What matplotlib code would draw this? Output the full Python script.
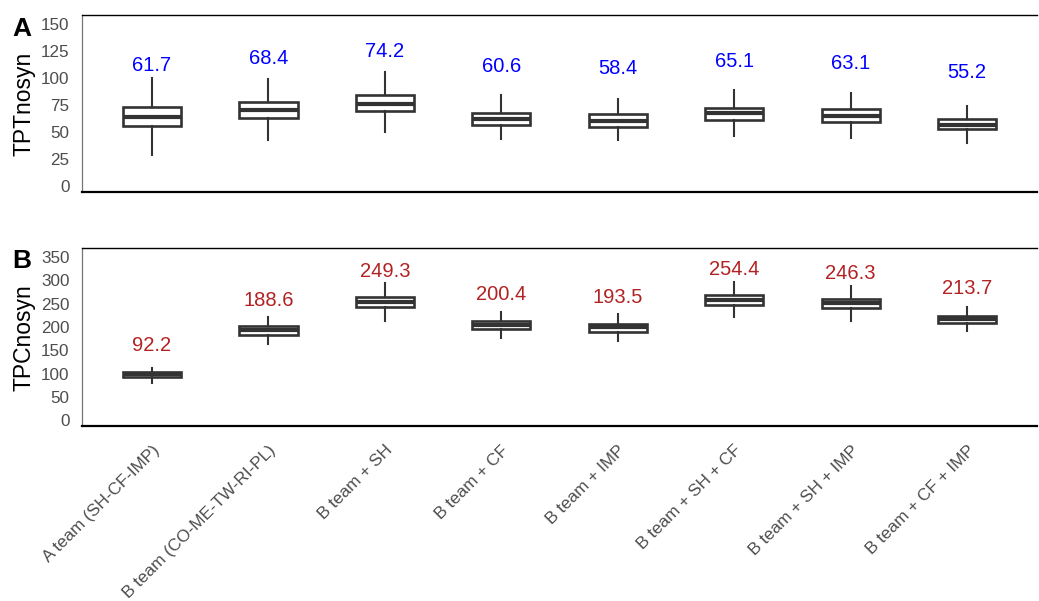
import matplotlib
matplotlib.use("Agg")
import matplotlib.pyplot as plt

plt.rcParams['font.family'] = ['Liberation Sans', 'DejaVu Sans']

groups = ["A team (SH-CF-IMP)", "B team (CO-ME-TW-RI-PL)", "B team + SH", "B team + CF",
          "B team + IMP", "B team + SH + CF", "B team + SH + IMP", "B team + CF + IMP"]

# TPTnosyn summary per group
tpt_mean = [61.7, 68.4, 74.2, 60.6, 58.4, 65.1, 63.1, 55.2]
tpt_lo = [28.7, 42.6, 50.0, 43.8, 42.6, 46.6, 44.7, 40.1]
tpt_q1 = [55.6, 63.3, 69.8, 56.8, 54.6, 61.1, 59.3, 52.8]
tpt_med = [63.6, 70.1, 75.6, 62.3, 59.9, 67.3, 65.1, 56.8]
tpt_q3 = [73.4, 77.5, 84.0, 67.9, 66.4, 72.5, 71.0, 61.7]
tpt_hi = [100.3, 98.8, 105.2, 84.3, 80.6, 88.9, 86.1, 74.1]

# TPCnosyn summary per group
tpc_mean = [92.2, 188.6, 249.3, 200.4, 193.5, 254.4, 246.3, 213.7]
tpc_lo = [80.3, 162.7, 212.9, 176.3, 169.9, 222.2, 213.6, 191.4]
tpc_q1 = [92.5, 183.5, 242.3, 195.7, 190.0, 247.3, 240.1, 208.6]
tpc_med = [98.2, 192.8, 253.8, 204.3, 200.0, 258.0, 250.9, 217.2]
tpc_q3 = [103.2, 202.2, 265.2, 212.2, 206.5, 269.5, 260.9, 224.3]
tpc_hi = [112.5, 222.2, 293.9, 233.0, 227.2, 296.0, 288.2, 242.3]


def make_stats(lo, q1, med, q3, hi, mean):
    return [dict(whislo=a, q1=b, med=c, q3=d, whishi=e, mean=m, fliers=[])
            for a, b, c, d, e, m in zip(lo, q1, med, q3, hi, mean)]


def draw_panel(ax, stats, means, offset, color, ylim, yticks, ylabel):
    pos = list(range(1, len(stats) + 1))
    ax.bxp(stats, positions=pos, widths=0.5, showcaps=False, patch_artist=True,
           boxprops=dict(facecolor='white', edgecolor='#333333', linewidth=1.9),
           medianprops=dict(color='#333333', linewidth=3.0, solid_capstyle='butt'),
           whiskerprops=dict(color='#333333', linewidth=1.5))
    for p, m in zip(pos, means):
        ax.text(p, m + offset, f"{m:.1f}", color=color, fontsize=14.5,
                ha='center', va='center')
    ax.set_xlim(0.4, len(stats) + 0.6)
    ax.set_ylim(*ylim)
    ax.set_yticks(yticks)
    ax.tick_params(axis='y', length=0, pad=9, labelsize=12.3, labelcolor='#4d4d4d')
    ax.set_ylabel(ylabel, fontsize=16.5, labelpad=4)
    ax.spines['right'].set_visible(False)
    ax.spines['top'].set_linewidth(1.0)
    ax.spines['top'].set_color('black')
    ax.spines['bottom'].set_linewidth(1.6)
    ax.spines['bottom'].set_color('black')
    ax.spines['left'].set_linewidth(0.9)
    ax.spines['left'].set_color('#777777')
    return pos


fig = plt.figure(figsize=(10.39, 6.01), dpi=100)
axA = fig.add_axes([0.079, 0.6805, 0.919, 0.2945])
axB = fig.add_axes([0.079, 0.291, 0.919, 0.296])

pos = draw_panel(axA, make_stats(tpt_lo, tpt_q1, tpt_med, tpt_q3, tpt_hi, tpt_mean),
                 tpt_mean, 50, '#0000FF', (-5.6, 158.3), [0, 25, 50, 75, 100, 125, 150],
                 'TPTnosyn')
axA.set_xticks(pos)
axA.tick_params(axis='x', length=0, labelbottom=False)

pos = draw_panel(axB, make_stats(tpc_lo, tpc_q1, tpc_med, tpc_q3, tpc_hi, tpc_mean),
                 tpc_mean, 69, '#B22222', (-12.9, 369), [0, 50, 100, 150, 200, 250, 300, 350],
                 'TPCnosyn')
axB.set_xticks(pos)
axB.set_xticklabels(groups, rotation=45, ha='right', rotation_mode='anchor',
                    fontsize=12.3, color='#4d4d4d')
axB.tick_params(axis='x', length=0, pad=12)

# panel letters
fig.text(0.021, 0.952, 'A', fontsize=19, fontweight='bold', ha='center', va='center')
fig.text(0.021, 0.565, 'B', fontsize=19, fontweight='bold', ha='center', va='center')

fig.savefig('out.png', dpi=100)
